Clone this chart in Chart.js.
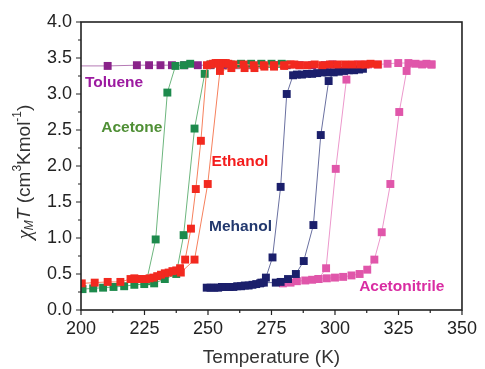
<!DOCTYPE html>
<html>
<head>
<meta charset="utf-8">
<script src="https://cdn.jsdelivr.net/npm/chart.js@4.4.1/dist/chart.umd.min.js"></script>
<style>
  html, body { margin: 0; padding: 0; background: #fff; }
</style>
</head>
<body>
<canvas id="chart" width="485" height="369"></canvas>
<script>
// Datos: [temperatura (K), chiM*T]
const toluene = [[200, 3.39], [210.5, 3.39], [222, 3.40], [226.8, 3.40], [231.3, 3.40], [235.8, 3.40],
    [240.7, 3.40], [246, 3.40], [251, 3.40], [256, 3.40], [261, 3.40], [266, 3.40], [271, 3.41],
    [276, 3.40], [281, 3.40], [286, 3.40], [291, 3.40], [296, 3.40], [299, 3.41]];

const acetoneHeat = [[200.6, 0.29], [204.8, 0.30], [208.7, 0.31], [212.8, 0.32], [217, 0.33], [221, 0.35],
    [224.9, 0.36], [228.8, 0.37], [233, 0.43], [237.5, 0.50], [240.4, 1.04], [244.7, 2.52], [248.7, 3.28],
    [251, 3.41], [255, 3.42], [259, 3.41], [263, 3.42], [267, 3.42], [271, 3.42], [275, 3.42], [279, 3.42], [281, 3.41]];
const acetoneCool = [[243, 3.42], [240.5, 3.40], [237.2, 3.39], [234, 3.02], [229.4, 0.98], [225.8, 0.40]];

const ethanolCool = [[284, 3.41], [280, 3.40], [276, 3.40], [272, 3.40], [268, 3.40], [264, 3.41], [260, 3.41],
    [258, 3.42], [257, 3.43], [256, 3.43], [255, 3.43], [254, 3.43], [253, 3.43], [252, 3.42], [251, 3.41],
    [249.6, 3.40], [247.2, 2.35], [245.2, 1.68], [243.3, 1.13], [241, 0.70], [239, 0.58], [237.5, 0.55],
    [236, 0.54], [234.5, 0.52], [233, 0.51], [231.5, 0.49], [230, 0.47], [228.5, 0.45], [227, 0.44],
    [225.5, 0.43], [224, 0.43], [222.5, 0.43], [221, 0.44], [219.5, 0.43], [215.5, 0.39], [210.5, 0.39],
    [205.4, 0.38], [200.3, 0.37]];
const ethanolHeat = [[239.3, 0.52], [244.7, 0.70], [249.9, 1.75], [254.7, 3.32], [259.2, 3.36], [264.4, 3.36],
    [268.3, 3.36], [272.2, 3.38], [276, 3.38], [280, 3.39], [282.5, 3.41], [286, 3.40], [289, 3.40], [292, 3.41],
    [295, 3.40], [298, 3.41], [301, 3.41], [304, 3.41], [307, 3.41], [310, 3.41], [312, 3.41], [314, 3.42], [316.8, 3.41]];

const methanolHeat = [[249.5, 0.31], [251, 0.31], [252.5, 0.31], [254, 0.31], [255.5, 0.32], [257, 0.32],
    [258.5, 0.32], [260, 0.32], [261.5, 0.33], [263, 0.33], [264.5, 0.34], [266, 0.34], [267.5, 0.35],
    [269, 0.36], [270.5, 0.37], [272, 0.38], [276.7, 0.38], [278.6, 0.39], [281.5, 0.43], [284.6, 0.50],
    [287.7, 0.68], [291.5, 1.18], [294.4, 2.43], [297.5, 3.18], [299.5, 3.30], [301.5, 3.31], [303.5, 3.32],
    [305.5, 3.33], [307.5, 3.33], [309.5, 3.34], [311, 3.35]];
const methanolCool = [[297, 3.30], [295, 3.30], [293, 3.29], [291, 3.28], [289, 3.28], [287, 3.27], [285, 3.27],
    [283.5, 3.26], [281, 3.00], [278.6, 1.71], [275.4, 0.73], [272.8, 0.45], [271, 0.38]];

const acetonitrileHeat = [[279.5, 0.37], [282.5, 0.38], [285, 0.40], [288.3, 0.41], [291, 0.42], [293.5, 0.43],
    [296.8, 0.44], [300, 0.45], [303.2, 0.46], [306.5, 0.48], [309.7, 0.50], [312.7, 0.56], [315.5, 0.70],
    [318.4, 1.08], [321.8, 1.75], [325.3, 2.75], [328.2, 3.32], [331.7, 3.42], [334.3, 3.41], [336, 3.42], [338, 3.41]];
const acetonitrileCool = [[338, 3.41], [328.9, 3.43], [324.9, 3.43], [320.7, 3.42], [317, 3.41], [313, 3.41],
    [309, 3.41], [306, 3.40], [304.5, 3.20], [300.3, 1.96], [296.5, 0.58], [293.5, 0.43]];

// Etiquetas de disolvente (posición en unidades de datos)
const solventLabels = ['Toluene', 'Acetone', 'Ethanol', 'Mehanol', 'Acetonitrile'];
const labelT = [213, 220, 262.6, 262.8, 326.3];
const labelY = [3.15, 2.53, 2.06, 1.15, 0.32];
const labelColors = ['#9c1aa0', '#4f8f35', '#f41c1c', '#22386e', '#d92ca2'];

const xTicks = [200, 225, 250, 275, 300, 325, 350];
const yTicks = [0, 0.5, 1, 1.5, 2, 2.5, 3, 3.5, 4];

const FONT = '"Liberation Sans", Arial, sans-serif';

function toPoints(arr) {
    return arr.map(p => ({ x: p[0], y: p[1] }));
}

function makeSet(arr, marker, line, order) {
    return {
        data: toPoints(arr),
        showLine: true,
        borderColor: line,
        borderWidth: 1,
        backgroundColor: marker,
        pointBackgroundColor: marker,
        pointBorderWidth: 0,
        pointStyle: 'rect',
        pointRadius: 5.6,
        tension: 0,
        order: order
    };
}

const tolueneSet = makeSet(toluene, '#8a238a', '#b57ab5', 5);
tolueneSet.pointRadius = toluene.map((p, i) => i === 0 ? 0 : 5.6);

const datasets = [
    tolueneSet,
    makeSet(acetonitrileHeat, '#e056aa', '#ec98cc', 4),
    makeSet(acetonitrileCool, '#e056aa', '#ec98cc', 4),
    makeSet(acetoneHeat, '#1d8a4c', '#6db67e', 3),
    makeSet(acetoneCool, '#1d8a4c', '#6db67e', 3),
    makeSet(methanolHeat, '#1b1f6b', '#6a70a0', 2),
    makeSet(methanolCool, '#1b1f6b', '#6a70a0', 2),
    makeSet(ethanolCool, '#f2291f', '#f6805d', 1),
    makeSet(ethanolHeat, '#f2291f', '#f6805d', 1)
];

// Marco, marcas de ejes y textos añadidos
const framePlugin = {
    id: 'frame',
    afterDraw(chart) {
        const ctx = chart.ctx;
        const a = chart.chartArea;
        const xs = chart.scales.x;
        const ys = chart.scales.y;
        ctx.save();
        ctx.strokeStyle = '#222';
        ctx.lineWidth = 1.6;
        ctx.strokeRect(a.left, a.top, a.right - a.left, a.bottom - a.top);

        ctx.lineWidth = 1.2;
        ctx.beginPath();
        for (let i = 0; i < xTicks.length; i++) {
            const px = xs.getPixelForValue(xTicks[i]);
            ctx.moveTo(px, a.bottom);
            ctx.lineTo(px, a.bottom + 5);
            if (i < xTicks.length - 1) {
                const mx = xs.getPixelForValue((xTicks[i] + xTicks[i + 1]) / 2);
                ctx.moveTo(mx, a.bottom);
                ctx.lineTo(mx, a.bottom + 3);
            }
        }
        for (let i = 0; i < yTicks.length; i++) {
            const py = ys.getPixelForValue(yTicks[i]);
            ctx.moveTo(a.left, py);
            ctx.lineTo(a.left - 5, py);
            if (i < yTicks.length - 1) {
                const my = ys.getPixelForValue((yTicks[i] + yTicks[i + 1]) / 2);
                ctx.moveTo(a.left, my);
                ctx.lineTo(a.left - 3, my);
            }
        }
        ctx.stroke();

        // Etiquetas de disolventes
        ctx.font = 'bold 15.5px ' + FONT;
        ctx.textAlign = 'center';
        ctx.textBaseline = 'middle';
        solventLabels.forEach((txt, i) => {
            ctx.fillStyle = labelColors[i];
            ctx.fillText(txt, xs.getPixelForValue(labelT[i]), ys.getPixelForValue(labelY[i]));
        });

        // Título del eje Y con subíndice y superíndices
        const parts = [
            { t: 'χ', f: 'italic 21px "Liberation Serif", serif', dy: 0 },
            { t: 'M', f: 'italic 12px ' + FONT, dy: 5 },
            { t: 'T', f: 'italic 19px ' + FONT, dy: 0 },
            { t: ' (cm', f: '19px ' + FONT, dy: 0 },
            { t: '3', f: '12px ' + FONT, dy: -7 },
            { t: 'Kmol', f: '19px ' + FONT, dy: 0 },
            { t: '-1', f: '12px ' + FONT, dy: -7 },
            { t: ')', f: '19px ' + FONT, dy: 0 }
        ];
        let total = 0;
        parts.forEach(p => { ctx.font = p.f; p.w = ctx.measureText(p.t).width; total += p.w; });
        ctx.translate(25, (a.top + a.bottom) / 2 + 6);
        ctx.rotate(-Math.PI / 2);
        ctx.fillStyle = '#333';
        ctx.textAlign = 'left';
        let cx = -total / 2;
        parts.forEach(p => {
            ctx.font = p.f;
            ctx.fillText(p.t, cx, p.dy);
            cx += p.w;
        });
        ctx.restore();
    }
};

new Chart(document.getElementById('chart'), {
    type: 'scatter',
    data: { datasets: datasets },
    options: {
        responsive: false,
        animation: false,
        layout: { padding: { left: 0, right: 18, top: 22, bottom: 0 } },
        plugins: {
            legend: { display: false },
            tooltip: { enabled: false }
        },
        scales: {
            x: {
                type: 'linear',
                min: 200,
                max: 350,
                afterBuildTicks: scale => { scale.ticks = xTicks.map(v => ({ value: v })); },
                afterFit: scale => { scale.height = 59; },
                grid: { display: false, drawTicks: false },
                border: { display: false },
                ticks: {
                    color: '#222',
                    padding: 8,
                    maxRotation: 0,
                    font: { family: FONT, size: 18 }
                },
                title: {
                    display: true,
                    text: 'Temperature (K)',
                    color: '#333',
                    padding: { top: 0, bottom: 0 },
                    font: { family: FONT, size: 19 }
                }
            },
            y: {
                type: 'linear',
                min: 0,
                max: 4,
                afterBuildTicks: scale => { scale.ticks = yTicks.map(v => ({ value: v })); },
                afterFit: scale => { scale.width = 81; },
                grid: { display: false, drawTicks: false },
                border: { display: false },
                ticks: {
                    color: '#222',
                    padding: 9,
                    font: { family: FONT, size: 18 },
                    callback: v => v.toFixed(1)
                }
            }
        }
    },
    plugins: [framePlugin]
});
</script>
</body>
</html>
